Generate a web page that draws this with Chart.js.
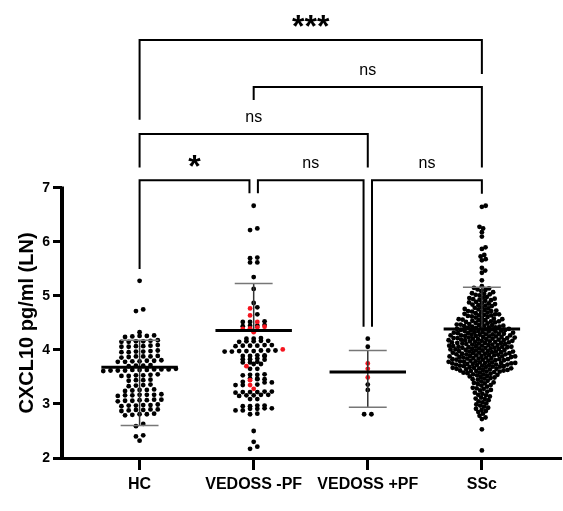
<!DOCTYPE html>
<html>
<head>
<meta charset="utf-8">
<script src="https://cdn.jsdelivr.net/npm/chart.js@4.4.1/dist/chart.umd.min.js"></script>
<style>
  html, body { margin: 0; padding: 0; background: #fff; }
  #wrap { width: 563px; height: 511px; }
</style>
</head>
<body>
<div id="wrap"><canvas id="chart"></canvas></div>
<script>
const categories = ['HC', 'VEDOSS -PF', 'VEDOSS +PF', 'SSc'];
const yTicks = [2, 3, 4, 5, 6, 7];

// individual values, CXCL10 pg/ml (LN)
const hcValues = [
  5.28, 4.75, 4.72, 4.33,
  4.26, 4.25, 4.27, 4.24, 4.26,
  4.17, 4.15, 4.16, 4.18, 4.16, 4.15,
  4.07, 4.08, 4.06, 4.07, 4.09, 4.06,
  3.97, 3.98, 3.96, 3.97, 3.99, 3.96,
  3.88, 3.87, 3.89, 3.88, 3.86, 3.88,
  3.80, 3.79, 3.78, 3.80, 3.81, 3.79, 3.78,
  3.71, 3.72, 3.70, 3.71,
  3.63, 3.64, 3.62, 3.63, 3.65, 3.62, 3.64, 3.63, 3.61, 3.64, 3.62,
  3.53, 3.54, 3.52, 3.53, 3.55, 3.52,
  3.44, 3.45, 3.43, 3.44,
  3.35, 3.34, 3.36, 3.33,
  3.26, 3.27, 3.25, 3.26, 3.24,
  3.17, 3.16, 3.18, 3.17, 3.15, 3.17, 3.16,
  3.07, 3.06, 3.08, 3.05, 3.07, 3.06, 3.08,
  2.98, 2.97, 2.99, 2.98, 2.96, 2.97,
  2.89, 2.90, 2.88, 2.89, 2.87, 2.90,
  2.81, 2.80, 2.82, 2.79, 2.81,
  2.63, 2.59, 2.42, 2.40, 2.32
];
const vedossNegValues = [
  6.67, 6.25, 6.22, 5.71, 5.70, 5.62, 5.62, 5.35, 5.13, 4.87, 4.79, 4.66,
  4.52, 4.53, 4.52, 4.45, 4.46, 4.44, 4.45,
  4.21, 4.22, 4.21, 4.16, 4.17, 4.15, 4.16, 4.17,
  4.08, 4.09, 4.07, 4.08, 4.08, 4.09,
  3.98, 3.99, 3.97, 3.98, 3.99, 3.98, 3.97, 3.99,
  3.89, 3.90, 3.88, 3.89, 3.90,
  3.83, 3.82, 3.83, 3.84,
  3.77, 3.78, 3.77, 3.74, 3.74,
  3.65, 3.65,
  3.54, 3.55, 3.53, 3.54,
  3.46, 3.47, 3.46, 3.47,
  3.40, 3.41, 3.40,
  3.35, 3.36, 3.35,
  3.22, 3.23, 3.21, 3.22, 3.23, 3.22,
  3.16, 3.17, 3.15, 3.16, 3.17,
  3.09, 3.09,
  2.96, 2.97, 2.96, 2.97,
  2.91, 2.92, 2.91, 2.92,
  2.88, 2.88, 2.81, 2.82,
  2.50, 2.30, 2.21, 2.17
];
const vedossNegRed = [4.77, 4.64, 4.52, 4.43, 4.42, 4.40, 4.39, 4.33, 4.01, 3.70, 3.44, 3.35, 3.28];
const vedossPosValues = [4.21, 4.06, 3.36, 3.26, 2.81, 2.81];
const vedossPosRed = [3.75, 3.65, 3.49];
const sscValues = [
  6.67, 6.65, 6.28, 6.25, 6.18, 6.10, 5.90, 5.87, 5.76, 5.73, 5.68, 5.66, 5.52, 5.47, 5.43, 5.29,
  5.11, 5.14, 5.12, 5.18, 5.15,
  5.01, 5.04, 5.07, 5.03, 5.09, 5.05, 5.02,
  4.91, 4.93, 4.96, 4.98, 4.92, 4.95, 4.97, 4.94,
  4.81, 4.83, 4.85, 4.86, 4.88, 4.82, 4.84, 4.87, 4.89,
  4.70, 4.72, 4.73, 4.75, 4.76, 4.78, 4.71, 4.74, 4.77, 4.79, 4.72,
  4.60, 4.61, 4.63, 4.64, 4.65, 4.66, 4.68, 4.69, 4.62, 4.64, 4.67, 4.66,
  4.50, 4.51, 4.52, 4.53, 4.54, 4.55, 4.56, 4.57, 4.58, 4.59, 4.51, 4.53, 4.55, 4.57,
  4.40, 4.41, 4.42, 4.43, 4.44, 4.45, 4.46, 4.47, 4.48, 4.49, 4.41, 4.43, 4.45, 4.47, 4.42, 4.46,
  4.30, 4.31, 4.31, 4.32, 4.33, 4.33, 4.34, 4.35, 4.35, 4.36, 4.36, 4.37, 4.37, 4.38, 4.38, 4.39, 4.32, 4.34, 4.30, 4.39,
  4.20, 4.20, 4.21, 4.21, 4.22, 4.22, 4.22, 4.23, 4.23, 4.24, 4.24, 4.25, 4.25, 4.26, 4.26, 4.27, 4.27, 4.27, 4.28, 4.28, 4.29, 4.29,
  4.10, 4.10, 4.11, 4.11, 4.12, 4.12, 4.13, 4.13, 4.13, 4.14, 4.14, 4.15, 4.15, 4.16, 4.16, 4.17, 4.17, 4.18, 4.18, 4.18, 4.19, 4.19,
  4.00, 4.00, 4.01, 4.01, 4.02, 4.02, 4.03, 4.03, 4.04, 4.04, 4.04, 4.05, 4.05, 4.06, 4.06, 4.06, 4.07, 4.07, 4.08, 4.08, 4.09, 4.09,
  3.90, 3.90, 3.91, 3.91, 3.92, 3.92, 3.92, 3.93, 3.93, 3.94, 3.94, 3.95, 3.95, 3.96, 3.96, 3.97, 3.97, 3.97, 3.98, 3.98, 3.99, 3.99,
  3.80, 3.80, 3.81, 3.81, 3.82, 3.82, 3.83, 3.83, 3.83, 3.84, 3.84, 3.85, 3.85, 3.86, 3.86, 3.87, 3.87, 3.88, 3.88, 3.88, 3.89, 3.89,
  3.70, 3.70, 3.71, 3.71, 3.72, 3.72, 3.73, 3.73, 3.74, 3.74, 3.75, 3.75, 3.76, 3.76, 3.77, 3.77, 3.78, 3.78, 3.79, 3.79, 3.73, 3.76,
  3.60, 3.61, 3.61, 3.62, 3.63, 3.63, 3.64, 3.65, 3.65, 3.66, 3.67, 3.67, 3.68, 3.69, 3.69, 3.62, 3.64, 3.66, 3.68, 3.60,
  3.50, 3.51, 3.53, 3.54, 3.55, 3.56, 3.57, 3.58, 3.59, 3.52, 3.55, 3.58,
  3.40, 3.42, 3.43, 3.45, 3.46, 3.47, 3.48, 3.49,
  3.30, 3.32, 3.34, 3.35, 3.37, 3.38, 3.39,
  3.21, 3.23, 3.25, 3.26, 3.28, 3.29,
  3.10, 3.12, 3.14, 3.16, 3.17, 3.19,
  3.01, 3.03, 3.05, 3.07, 3.09,
  2.91, 2.93, 2.95, 2.97, 2.99,
  2.82, 2.85, 2.87, 2.89,
  2.72, 2.75, 2.78,
  2.53, 2.14
];

// mean line and error bar ends per group (null = not drawn)
const groupMean = [3.68, 4.36, 3.59, 4.39];
const sdUpper = [4.18, 5.23, 3.99, 5.16];
const sdLower = [2.60, null, 2.94, null];

// significance brackets: category pairs, bar height and leg ends (y units)
const bracketPairs = [[0, 3], [1, 3], [0, 2], [0, 1], [1, 2], [2, 3]];
const bracketLabels = ['***', 'ns', 'ns', '*', 'ns', 'ns'];
const bracketTop = [9.74, 8.87, 8.00, 7.14, 7.14, 7.14];
const bracketLeftEnd = [8.26, 8.63, 7.38, 5.50, 6.90, 4.43];
const bracketRightEnd = [9.11, 7.38, 7.38, 6.90, 4.43, 6.89];
const bracketInset = [[0, 0], [0, 0], [0, 0], [0, -0.037], [0.037, -0.037], [0.037, 0]];

const FONT = 'Arial, "Liberation Sans", Helvetica, sans-serif';
const X_MIN = -0.68, X_MAX = 3.69;
const PX_PER_X = 501 / (X_MAX - X_MIN);
const PX_PER_Y = 54.3;
const RED = '#f5141e';

// Prism-like column scatter: values close together share a row
function columnScatter(black, red, center, stepPx) {
  const pts = black.map(v => ({ v, color: '#000' })).concat(red.map(v => ({ v, color: RED })));
  const sorted = pts.slice().sort((a, b) => a.v - b.v);
  const rows = [];
  sorted.forEach(p => {
    const row = rows[rows.length - 1];
    if (row && p.v - row[0].v < 0.05) row.push(p); else rows.push([p]);
  });
  const step = stepPx / PX_PER_X;
  rows.forEach(row => {
    row.forEach((p, j) => { p.x = center + (j - (row.length - 1) / 2) * step; });
  });
  return pts.sort((a, b) => (a.color === RED) - (b.color === RED));
}

// beeswarm for the big group
function beeswarm(values, center, d) {
  const order = values.map((v, i) => i).sort((a, b) => values[a] - values[b]);
  const placed = [];
  const out = [];
  order.forEach(i => {
    const py = values[i] * PX_PER_Y;
    const near = placed.filter(p => Math.abs(p.y - py) < d);
    const cands = [0];
    near.forEach(p => {
      const dx = Math.sqrt(d * d - (p.y - py) ** 2);
      cands.push(p.x + dx, p.x - dx);
    });
    cands.sort((a, b) => Math.abs(a) - Math.abs(b));
    const px = cands.find(c => near.every(p => (p.x - c) ** 2 + (p.y - py) ** 2 >= d * d - 0.01));
    placed.push({ x: px, y: py });
    out.push({ v: values[i], x: center + px / PX_PER_X, color: '#000' });
  });
  return out;
}

const groups = [
  columnScatter(hcValues, [], 0, 7.3),
  columnScatter(vedossNegValues, vedossNegRed, 1, 7.3),
  columnScatter(vedossPosValues, vedossPosRed, 2, 7.3),
  beeswarm(sscValues, 3, 4.0)
];

const summaryPlugin = {
  id: 'summary',
  afterDatasetsDraw(chart) {
    const { ctx, scales: { x, y } } = chart;
    const seg = (x1, y1, x2, y2) => { ctx.beginPath(); ctx.moveTo(x1, y1); ctx.lineTo(x2, y2); ctx.stroke(); };
    ctx.save();
    groupMean.forEach((m, i) => {
      const cx = x.getPixelForValue(i);
      ctx.strokeStyle = '#333';
      ctx.lineWidth = 1.5;
      seg(cx, y.getPixelForValue(sdUpper[i]), cx, y.getPixelForValue(sdLower[i] ?? m));
      ctx.strokeStyle = '#777';
      [sdUpper[i], sdLower[i]].forEach(v => {
        if (v == null) return;
        const py = y.getPixelForValue(v);
        seg(x.getPixelForValue(i - 0.166), py, x.getPixelForValue(i + 0.166), py);
      });
      ctx.strokeStyle = '#000';
      ctx.lineWidth = 3;
      const my = y.getPixelForValue(m);
      seg(x.getPixelForValue(i - 0.335), my, x.getPixelForValue(i + 0.335), my);
    });
    ctx.restore();
  }
};

const annotatePlugin = {
  id: 'annotate',
  afterDraw(chart) {
    const { ctx, chartArea, scales: { x, y } } = chart;
    ctx.save();
    // y axis line only over the tick range
    ctx.strokeStyle = '#000';
    ctx.lineWidth = 4;
    ctx.beginPath();
    ctx.moveTo(chartArea.left, y.getPixelForValue(2));
    ctx.lineTo(chartArea.left, y.getPixelForValue(7) - 1.5);
    ctx.stroke();

    // y title
    ctx.fillStyle = '#000';
    ctx.font = 'bold 20px ' + FONT;
    ctx.textAlign = 'center';
    ctx.textBaseline = 'middle';
    ctx.translate(27, (y.getPixelForValue(2) + y.getPixelForValue(7)) / 2);
    ctx.rotate(-Math.PI / 2);
    ctx.fillText('CXCL10 pg/ml (LN)', 0, 0);
    ctx.setTransform(1, 0, 0, 1, 0, 0);

    // brackets
    ctx.lineWidth = 2;
    ctx.lineJoin = 'miter';
    ctx.textBaseline = 'alphabetic';
    bracketPairs.forEach(([a, b], k) => {
      const xl = x.getPixelForValue(a + bracketInset[k][0]);
      const xr = x.getPixelForValue(b + bracketInset[k][1]);
      const yt = y.getPixelForValue(bracketTop[k]);
      ctx.beginPath();
      ctx.moveTo(xl, y.getPixelForValue(bracketLeftEnd[k]));
      ctx.lineTo(xl, yt);
      ctx.lineTo(xr, yt);
      ctx.lineTo(xr, y.getPixelForValue(bracketRightEnd[k]));
      ctx.stroke();
      const label = bracketLabels[k];
      const stars = label.startsWith('*');
      ctx.font = stars ? 'bold 32px ' + FONT : '16px ' + FONT;
      ctx.fillText(label, (xl + xr) / 2, stars ? yt - 3 : yt - 12);
    });
    ctx.restore();
  }
};

const ctx = document.getElementById('chart').getContext('2d');
new Chart(ctx, {
  type: 'scatter',
  data: {
    datasets: groups.map((pts, i) => ({
      label: categories[i],
      data: pts.map(p => ({ x: p.x, y: p.v })),
      pointBackgroundColor: pts.map(p => p.color),
      pointBorderWidth: 0,
      pointRadius: 2.4,
      pointHoverRadius: 2.4
    }))
  },
  options: {
    responsive: true,
    maintainAspectRatio: false,
    animation: false,
    layout: { padding: 0 },
    plugins: {
      legend: { display: false },
      tooltip: { enabled: false }
    },
    scales: {
      x: {
        type: 'linear',
        min: X_MIN,
        max: X_MAX,
        afterBuildTicks: axis => { axis.ticks = categories.map((c, i) => ({ value: i })); },
        afterFit: scale => {
          scale.height = 53;
          scale.paddingLeft = 0;
          scale.paddingRight = 0;
        },
        ticks: {
          callback: v => categories[v],
          color: '#000',
          font: { family: FONT, size: 16, weight: 'bold' },
          padding: 5,
          maxRotation: 0
        },
        grid: { drawOnChartArea: false, tickLength: 12, lineWidth: 3, color: '#000' },
        border: { display: true, width: 3, color: '#000' }
      },
      y: {
        min: 2,
        max: 2 + 458 / PX_PER_Y,
        afterBuildTicks: axis => { axis.ticks = yTicks.map(v => ({ value: v })); },
        afterFit: scale => {
          scale.width = 62;
          scale.paddingTop = 0;
          scale.paddingBottom = 0;
        },
        ticks: {
          color: '#000',
          font: { family: FONT, size: 14, weight: 'bold' },
          padding: 3
        },
        grid: { drawOnChartArea: false, tickLength: 9, lineWidth: 3, color: '#000' },
        border: { display: false }
      }
    }
  },
  plugins: [summaryPlugin, annotatePlugin]
});
</script>
</body>
</html>
